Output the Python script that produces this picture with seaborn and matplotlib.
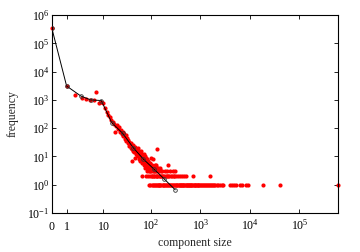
import numpy as np
import pandas as pd
import matplotlib
matplotlib.use("Agg")
import matplotlib.pyplot as plt
import seaborn as sns

# raw component-size distribution (size -> number of components)
sizes_head = [0, 1, 2, 3, 4, 5, 6, 7, 8, 9, 10, 11, 12, 13, 14, 15, 16, 17, 18, 19,
              20, 21, 22, 23, 24, 25, 26, 27, 28, 29, 30, 31, 32, 33, 34, 35, 36, 37, 38, 39,
              40, 41, 42, 43, 44, 45, 46, 47, 48, 49, 50, 51, 52, 53, 54, 55, 56, 57, 58, 59,
              60, 61, 62, 63, 64, 65, 66, 67, 68, 69, 70, 71, 72, 73, 74, 75, 76, 77, 78, 79,
              80, 81, 82, 83, 84, 85, 86, 87, 88, 89, 90, 91, 92, 93, 94, 95, 96, 97, 98, 99]
counts_head = [360000, 3100, 1550, 1150, 1050, 1000, 1000, 1950, 780, 820, 760, 520, 380, 290, 250, 195, 160, 140, 76, 120,
               130, 95, 110, 72, 88, 60, 75, 52, 64, 40, 55, 36, 44, 30, 38, 24, 33, 28, 20, 30,
               18, 7, 25, 16, 22, 14, 19, 9, 21, 12, 17, 11, 15, 20, 10, 14, 8, 16, 12, 9,
               13, 7, 15, 10, 8, 12, 6, 2, 11, 7, 9, 5, 12, 6, 8, 4, 10, 6, 7, 2,
               9, 5, 6, 3, 8, 4, 7, 2, 5, 6, 3, 1, 5, 4, 2, 6, 3, 1, 9, 4]
sizes_mid = [100, 101, 102, 103, 104, 105, 106, 107, 108, 109, 110, 112, 113, 115, 116, 117, 118, 120, 121, 122,
             124, 125, 126, 128, 130, 131, 132, 134, 135, 137, 139, 140, 143, 145, 146, 148, 150, 152, 155, 158,
             160, 163, 166, 170, 172, 175, 178, 182, 186, 190, 194, 199, 203, 208, 212, 215, 218, 222, 226, 231,
             237, 240, 244, 250, 256, 262, 268, 275, 281, 288, 296, 300, 305, 310, 318, 326, 335, 344, 355, 362]
counts_mid = [4, 5, 3, 1, 4, 2, 5, 2, 3, 1, 4, 8, 2, 3, 1, 2, 5, 3, 1, 4,
              2, 5, 1, 3, 2, 4, 18, 1, 2, 3, 1, 4, 2, 1, 3, 1, 4, 2, 1, 3,
              2, 1, 2, 3, 1, 2, 1, 2, 1, 3, 1, 2, 1, 2, 1, 3, 1, 5, 2, 1,
              2, 3, 1, 2, 1, 2, 1, 3, 1, 2, 1, 2, 1, 3, 1, 2, 1, 1, 2, 1]
sizes_tail = [372, 383, 390, 398, 410, 420, 428, 440, 452, 465, 478, 490, 505, 515, 530, 548, 565, 580, 600, 622,
              640, 662, 685, 700, 712, 740, 768, 795, 822, 850, 884, 915, 950, 990, 1030, 1075, 1120, 1170, 1225, 1280,
              1340, 1400, 1470, 1540, 1590, 1620, 1710, 1800, 1900, 2020, 2150, 2300, 2480, 2700, 2900, 3950, 4300, 4700, 5200, 6300,
              7000, 8200, 9100, 18200, 40500, 600000]
counts_tail = [1, 1, 2, 1, 1, 2, 1, 1, 1, 2, 1, 1, 1, 2, 1, 1, 1, 1, 1, 1,
               1, 1, 1, 2, 1, 1, 1, 1, 1, 1, 1, 1, 1, 1, 1, 1, 1, 1, 1, 1,
               1, 1, 1, 1, 2, 1, 1, 1, 1, 1, 1, 1, 1, 1, 1, 1, 1, 1, 1, 1,
               1, 1, 1, 1, 1, 1]

# log-binned average
bin_sizes = [0, 1, 2.85, 5.1, 9, 15.3, 26, 43.6, 70, 116, 185, 310]
bin_freq = [360000, 3100, 1380, 1000, 950, 156, 66, 20, 8, 3.5, 1.6, 0.66]

x_ticks = [0, 1, 10, 100, 1000, 10000, 100000]
x_tick_labels = ["$0$", "$1$", "$10$", "$10^{2}$", "$10^{3}$", "$10^{4}$", "$10^{5}$"]
y_ticks = [1e-1, 1e0, 1e1, 1e2, 1e3, 1e4, 1e5, 1e6]
y_tick_labels = ["$10^{-1}$", "$10^{0}$", "$10^{1}$", "$10^{2}$", "$10^{3}$", "$10^{4}$", "$10^{5}$", "$10^{6}$"]

sns.set_style("ticks")
plt.rcParams.update({
    "font.family": ["Liberation Serif", "DejaVu Serif"],
    "mathtext.fontset": "custom",
    "mathtext.rm": "Liberation Serif",
    "mathtext.it": "Liberation Serif:italic",
    "mathtext.bf": "Liberation Serif:bold",
    "axes.linewidth": 0.8,
    "axes.edgecolor": "black",
})


def fwd(x):
    return np.log10(np.clip(np.asarray(x, dtype=float) + 1.0, 1e-12, None))


def inv(y):
    return np.power(10.0, np.asarray(y, dtype=float)) - 1.0


raw = pd.DataFrame({"size": sizes_head + sizes_mid + sizes_tail,
                    "freq": counts_head + counts_mid + counts_tail})
bins = pd.DataFrame({"size": bin_sizes, "freq": bin_freq})

fig = plt.figure(figsize=(3.6, 2.52), dpi=100)
ax = fig.add_axes([0.1436, 0.155, 0.7954, 0.785])
ax.set_xscale("function", functions=(fwd, inv))
ax.set_yscale("log")

sns.scatterplot(data=raw, x="size", y="freq", ax=ax, color="#ff0000", s=9,
                linewidth=0, zorder=2, clip_on=False)
sns.lineplot(data=bins, x="size", y="freq", ax=ax, color="black", lw=0.7,
             estimator=None, marker="o", markersize=2.6, markerfacecolor="none",
             markeredgecolor="#333333", markeredgewidth=0.6, zorder=3)

ax.set_xlim(0, 6.02e5)
ax.set_ylim(1e-1, 1e6)
ax.set_xticks(x_ticks)
ax.set_xticklabels(x_tick_labels)
ax.set_yticks(y_ticks)
ax.set_yticklabels(y_tick_labels)
ax.xaxis.set_minor_locator(matplotlib.ticker.NullLocator())
ax.yaxis.set_minor_locator(matplotlib.ticker.NullLocator())
ax.tick_params(which="both", direction="in", top=True, right=True,
               length=3, width=0.6, labelsize=8.5, colors="black")
ax.tick_params(axis="x", pad=12)
ax.tick_params(axis="y", pad=1.5)
plt.setp(ax.get_xticklabels(), va="baseline")

ax.set_xlabel("component size", fontsize=8.5, labelpad=3.5)
ax.set_ylabel("frequency", fontsize=8.5, labelpad=6.5)

fig.savefig("out.png", dpi=100)
